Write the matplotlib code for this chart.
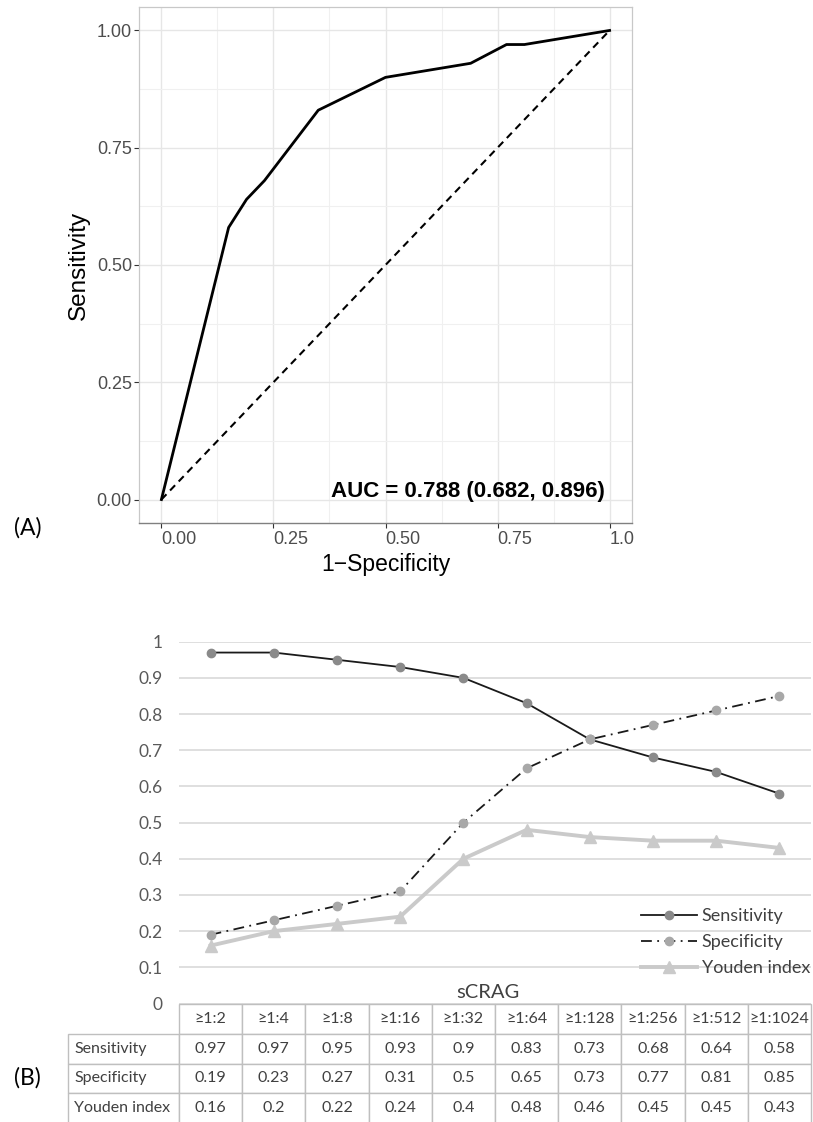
import matplotlib
matplotlib.use("Agg")
import matplotlib.pyplot as plt
import numpy as np

cutoffs = ["≥1:2", "≥1:4", "≥1:8", "≥1:16", "≥1:32", "≥1:64", "≥1:128", "≥1:256", "≥1:512", "≥1:1024"]
sensitivity = [0.97, 0.97, 0.95, 0.93, 0.9, 0.83, 0.73, 0.68, 0.64, 0.58]
specificity = [0.19, 0.23, 0.27, 0.31, 0.5, 0.65, 0.73, 0.77, 0.81, 0.85]
youden = [0.16, 0.2, 0.22, 0.24, 0.4, 0.48, 0.46, 0.45, 0.45, 0.43]
auc_text = "AUC = 0.788 (0.682, 0.896)"

W, H = 813, 1122
fig = plt.figure(figsize=(W / 100, H / 100), dpi=100)

def fx(px):
    return px / W

def fy(py):
    return 1 - py / H

# ---------------- (A) ROC curve, ggplot look ----------------
gg_font = ["Liberation Sans", "DejaVu Sans"]
ax1 = fig.add_axes([fx(139), fy(523), fx(632) - fx(139), fy(7) - fy(523)])
ax1.set_xlim(-0.05, 1.05)
ax1.set_ylim(-0.05, 1.05)

# ROC points: (1 - specificity, sensitivity), ordered by false positive rate
fpr = [0.0] + [1 - s for s in specificity[::-1]] + [1.0]
tpr = [0.0] + sensitivity[::-1] + [1.0]
ax1.plot(fpr, tpr, color="black", lw=2.0, solid_joinstyle="round", zorder=3)
ax1.plot([0, 1], [0, 1], color="black", lw=1.5, ls=(0, (3.5, 2.5)), zorder=3)

major = [0, 0.25, 0.5, 0.75, 1.0]
minor = [0.125, 0.375, 0.625, 0.875]
ax1.set_xticks(major)
ax1.set_yticks(major)
ax1.set_xticks(minor, minor=True)
ax1.set_yticks(minor, minor=True)
ax1.grid(which="major", color="#e6e6e6", lw=1.0)
ax1.grid(which="minor", color="#f0f0f0", lw=0.8)
ax1.set_axisbelow(True)
ax1.tick_params(which="minor", length=0)
ax1.tick_params(which="major", length=3.6, width=0.8, color="#333333")
ax1.set_xticklabels(["0.00", "0.25", "0.50", "0.75", "1.0"], ha="left",
                    fontsize=13, color="#4d4d4d", family=gg_font)
ax1.set_yticklabels(["0.00", "0.25", "0.50", "0.75", "1.00"],
                    fontsize=13, color="#4d4d4d", family=gg_font)
ax1.tick_params(axis="y", pad=1.5)
ax1.tick_params(axis="x", pad=2.0)
for side in ["left", "top", "right"]:
    ax1.spines[side].set_color("#c8c8c8")
    ax1.spines[side].set_linewidth(0.9)
ax1.spines["bottom"].set_color("#808080")
ax1.spines["bottom"].set_linewidth(1.0)
ax1.set_xlabel("1\u2212Specificity", fontsize=16.5, family=gg_font, labelpad=4)
ax1.set_ylabel("Sensitivity", fontsize=17.5, family=gg_font, labelpad=5)
ax1.text(0.99, 0.017, auc_text, ha="right", va="center", fontsize=16,
         fontweight="bold", family=gg_font)

fig.text(fx(14), fy(528), "(A)", fontsize=16.5, va="center", ha="left",
         family=["Lato", "DejaVu Sans"])

# ---------------- (B) Excel-style line chart + data table ----------------
xl_font = ["Lato", "DejaVu Sans"]
ax2 = fig.add_axes([fx(179), fy(1003.5), fx(811) - fx(179), fy(641.7) - fy(1003.5)])
x = np.arange(len(cutoffs))
ax2.plot(x, sensitivity, color="#1a1a1a", lw=1.3, marker="o", ms=6,
         mfc="#8a8a8a", mec="#8a8a8a", label="Sensitivity", zorder=4)
ax2.plot(x, specificity, color="#1a1a1a", lw=1.3, ls=(0, (6, 3, 1, 3)), marker="o",
         ms=6, mfc="#a8a8a8", mec="#a8a8a8", label="Specificity", zorder=4)
ax2.plot(x, youden, color="#cacaca", lw=2.8, marker="^", ms=9,
         mfc="#cacaca", mec="#cacaca", label="Youden index", zorder=3)
ax2.set_xlim(-0.5, len(cutoffs) - 0.5)
ax2.set_ylim(0, 1)
yt = np.round(np.arange(0, 1.01, 0.1), 1)
ax2.set_yticks(yt)
ax2.set_yticklabels([f"{v:g}" for v in yt], fontsize=12.5, color="#595959", family=xl_font)
ax2.set_xticks([])
ax2.tick_params(axis="y", length=0, pad=12)
ax2.yaxis.grid(True, color="#d9d9d9", lw=1.2)
ax2.set_axisbelow(True)
for s in ax2.spines.values():
    s.set_visible(False)
ax2.legend(loc="upper right", bbox_to_anchor=(fx(810), fy(908)), bbox_transform=fig.transFigure,
           frameon=False, handlelength=3.1, handletextpad=0.25, borderpad=0,
           borderaxespad=0, labelspacing=0.55, prop={"family": xl_font, "size": 13},
           labelcolor="#404040")

fig.text(fx(488), fy(992), "sCRAG", ha="center", va="center", fontsize=14.5,
         color="#404040", family=xl_font)

# data table under the chart
tax = fig.add_axes([fx(68), fy(1123), fx(811) - fx(68), fy(1004) - fy(1123)])
tax.axis("off")
rows = [
    ["Sensitivity"] + [f"{v:g}" for v in sensitivity],
    ["Specificity"] + [f"{v:g}" for v in specificity],
    ["Youden index"] + [f"{v:g}" for v in youden],
]
total_w = 811 - 68
col_w = [111 / total_w] + [(632 / 10) / total_w] * 10
tab = tax.table(cellText=rows, colLabels=[""] + cutoffs, colWidths=col_w,
                cellLoc="center", bbox=[0, 0, 1, 1])
tab.auto_set_font_size(False)
tab.set_fontsize(11.5)
for (r, c), cell in tab.get_celld().items():
    cell.set_edgecolor("#bfbfbf")
    cell.set_linewidth(1.0)
    cell.get_text().set_color("#404040")
    cell.get_text().set_fontfamily(xl_font)
    if c == 0:
        cell.get_text().set_ha("left")
        cell.PAD = 0.055
    if r == 0 and c == 0:
        cell.visible_edges = ""

fig.text(fx(14), fy(1078), "(B)", fontsize=16.5, va="center", ha="left", family=xl_font)

fig.savefig("out.png", dpi=100)
